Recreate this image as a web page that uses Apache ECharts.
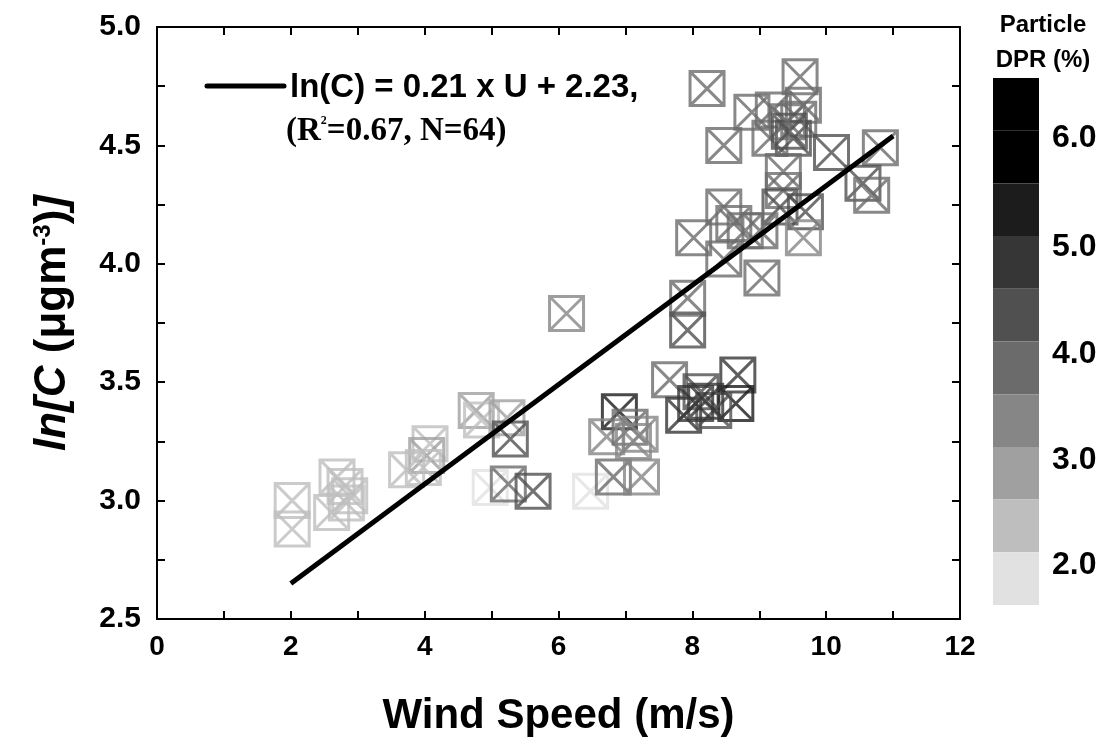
<!DOCTYPE html>
<html><head><meta charset="utf-8">
<script src="https://cdn.jsdelivr.net/npm/echarts@6/dist/echarts.min.js"></script>
<style>html,body{margin:0;padding:0;background:#fff}#c{width:1107px;height:742px}</style>
</head><body><div id="c"></div>
<script>
// Wind speed (m/s)
const windSpeed = [2.02,2.02,2.69,2.61,2.81,2.88,4.08,4.03,3.73,3.98,
  4.77,4.85,5.23,5.28,4.98,5.25,5.62,6.48,6.12,
  6.91,6.72,7.07,7.22,6.82,7.24,7.12,7.66,8.68,8.13,8.65,7.87,8.32,8.05,8.20,7.93,7.93,
  8.22,9.61,8.89,8.47,9.21,9.66,9.16,9.59,9.51,10.08,10.81,10.55,10.68,9.36,9.36,9.31,9.69,9.66,
  8.47,8.02,8.79,9.01,8.47,9.04,9.42,8.62,9.45,2.83];
// ln[C]
const lnC = [3.00,2.88,3.10,2.95,3.06,3.02,3.24,3.19,3.13,3.14,
  3.38,3.34,3.35,3.26,3.055,3.07,3.04,3.04,3.79,
  3.375,3.27,3.31,3.28,3.10,3.10,3.25,3.51,3.53,3.46,3.41,3.36,3.38,3.41,3.42,3.855,3.72,
  4.74,4.79,4.64,4.50,4.65,4.67,4.53,4.61,4.53,4.47,4.49,4.34,4.29,4.39,4.31,4.24,4.22,4.11,
  4.24,4.11,4.14,4.14,4.02,3.94,4.60,4.17,4.56,2.99];
// Particle DPR (%)
const dpr = [2.2,2.2,2.3,2.2,2.4,2.3,2.4,2.6,2.3,2.4,
  2.6,2.4,2.7,4.2,1.8,3.8,4.4,1.8,3.3,
  5.2,3.2,3.6,3.3,3.7,3.2,3.4,3.8,4.6,4.3,5.1,4.7,4.4,4.6,4.5,3.9,4.1,
  3.7,3.7,3.7,3.8,3.7,3.6,3.8,3.5,4.2,4.0,3.7,4.1,3.6,3.8,3.9,4.0,4.0,3.4,
  3.7,3.6,3.5,3.8,3.7,3.7,3.9,3.5,4.3,2.2];
// regression line endpoints
const fitX = [2, 11];
const fitY = [2.65, 4.54];
// colour scale
const dprBreaks = [1.5,2.0,2.5,3.0,3.5,4.0,4.5,5.0,5.5,6.0,6.5];
const dprColors = ['#e1e1e1','#bebebe','#a0a0a0','#868686','#6b6b6b','#505050','#363636','#1c1c1c','#000000','#000000'];
const dprLabels = ['6.0','5.0','4.0','3.0','2.0'];

const FONT = "'Liberation Sans', Arial, sans-serif";
const SERIF = "'Liberation Serif', 'Times New Roman', serif";

const pieces = dprColors.map((c,i)=>({gte:dprBreaks[i], lt:dprBreaks[i+1], color:c}));
function colorFor(v){
  for (let i=0;i<dprColors.length;i++){ if (v>=dprBreaks[i] && v<dprBreaks[i+1]) return dprColors[i]; }
  return dprColors[dprColors.length-1];
}
const scatterData = windSpeed.map((x,i)=>({value:[x, lnC[i]], itemStyle:{borderColor: colorFor(dpr[i])}}));
const lineData = fitX.map((x,i)=>[x, fitY[i]]);

const chart = echarts.init(document.getElementById('c'));
const axisLine = {show:true, onZero:false, lineStyle:{color:'#000', width:2}};
const tick = {show:true, inside:true, length:8, lineStyle:{color:'#000', width:2}};

// label y-centres of colourbar ticks (layout)
const cbLabelY = [138, 247, 354, 460, 565];

chart.setOption({
  animation:false,
  backgroundColor:'#fff',
  grid:{left:157, right:147, top:27, bottom:122},
  xAxis:[{
    type:'value', min:0, max:12, interval:1, position:'bottom',
    axisLine, axisTick:tick, splitLine:{show:false},
    axisLabel:{color:'#000', fontSize:28, fontWeight:'bold', fontFamily:FONT, margin:14,
      formatter:v=>(Math.round(v)%2===0 ? String(v) : '')},
    name:'Wind Speed (m/s)', nameLocation:'middle', nameGap:76,
    nameTextStyle:{color:'#000', fontSize:42, fontWeight:'bold', fontFamily:FONT}
  },{
    type:'value', min:0, max:12, interval:1, position:'top',
    axisLine, axisTick:tick, splitLine:{show:false}, axisLabel:{show:false}
  }],
  yAxis:[{
    type:'value', min:2.5, max:5.0, interval:0.25, position:'left',
    axisLine, axisTick:tick, splitLine:{show:false},
    axisLabel:{color:'#000', fontSize:30, fontWeight:'bold', fontFamily:FONT, margin:16,
      formatter:v=>(Math.abs(v*2-Math.round(v*2))<1e-6 ? v.toFixed(1) : '')},
    name:'{i|ln[C}{n| (μgm}{s|-3}{n|)}{i|]}', nameLocation:'middle', nameGap:82, nameRotate:90,
    nameTextStyle:{color:'#000', fontFamily:FONT, rich:{
      i:{fontSize:44, fontStyle:'italic', fontWeight:'bold', fontFamily:FONT, color:'#000'},
      n:{fontSize:44, fontWeight:'bold', fontFamily:FONT, color:'#000'},
      s:{fontSize:24, fontWeight:'bold', fontFamily:FONT, color:'#000', verticalAlign:'top'}
    }}
  },{
    type:'value', min:2.5, max:5.0, interval:0.25, position:'right',
    axisLine, axisTick:tick, splitLine:{show:false}, axisLabel:{show:false}
  }],
  visualMap:{
    type:'piecewise', seriesIndex:2, orient:'vertical',
    left:993, top:78, padding:0,
    itemWidth:46, itemHeight:52.7, itemGap:0, itemSymbol:'rect',
    showLabel:false, hoverLink:false, selectedMode:false,
    pieces:pieces
  },
  series:[{
    type:'scatter', xAxisIndex:0, yAxisIndex:0,
    symbol:'path://M0,0L10,0L10,10L0,10ZM0,0L10,10M10,0L0,10',
    symbolSize:34,
    itemStyle:{color:'rgba(0,0,0,0)', borderWidth:3},
    data:scatterData, z:2
  },{
    type:'line', xAxisIndex:0, yAxisIndex:0, symbol:'none',
    lineStyle:{color:'#000', width:5}, data:lineData, z:5
  },{
    type:'scatter', data:[]
  }],
  graphic:[
    {type:'line', shape:{x1:207,y1:86,x2:284,y2:86}, style:{stroke:'#000', lineWidth:5, lineCap:'round'}, z:10},
    {type:'text', x:290, y:88, style:{text:'ln(C) = 0.21 x U + 2.23,', font:"bold 33px "+FONT, fill:'#000', textVerticalAlign:'middle'}, z:10},
    {type:'text', x:286, y:131, style:{text:'{a|(R}{s|2}{a|=0.67, N=64)}', fill:'#000', textVerticalAlign:'middle',
      rich:{a:{fontFamily:SERIF, fontWeight:'bold', fontSize:33, fill:'#000'}, s:{fontFamily:SERIF, fontWeight:'bold', fontSize:12, fill:'#000', verticalAlign:'top'}}}, z:10},
    {type:'text', x:1043, y:25, style:{text:'Particle', font:"bold 24px "+FONT, fill:'#000', textAlign:'center', textVerticalAlign:'middle'}},
    {type:'text', x:1043, y:60, style:{text:'DPR (%)', font:"bold 24px "+FONT, fill:'#000', textAlign:'center', textVerticalAlign:'middle'}}
  ].concat(dprLabels.map((t,i)=>({type:'text', x:1052, y:cbLabelY[i], style:{text:t, font:"bold 32px "+FONT, fill:'#000', textVerticalAlign:'middle'}})))
});
</script></body></html>
